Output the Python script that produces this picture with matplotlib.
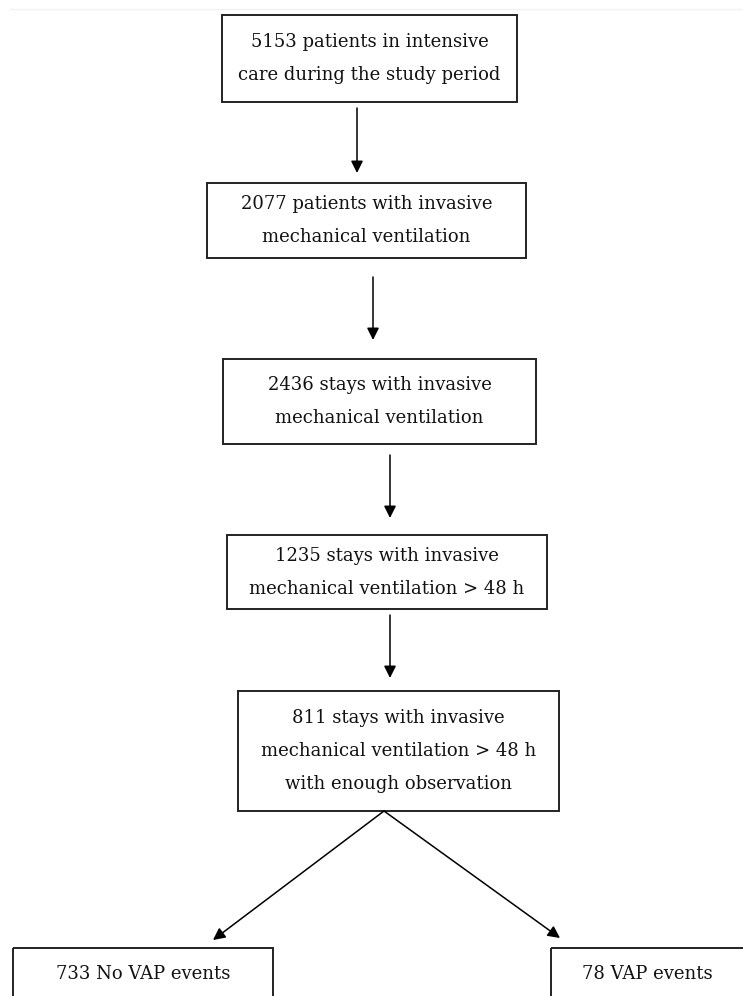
import matplotlib
matplotlib.use("Agg")
import matplotlib.pyplot as plt
from matplotlib.patches import Rectangle

# flowchart content
labels = [
    ["5153 patients in intensive", "care during the study period"],
    ["2077 patients with invasive", "mechanical ventilation"],
    ["2436 stays with invasive", "mechanical ventilation"],
    ["1235 stays with invasive", "mechanical ventilation > 48 h"],
    ["811 stays with invasive", "mechanical ventilation > 48 h", "with enough observation"],
]
outcome_labels = ["733 No VAP events", "78 VAP events"]

# layout in pixels (x0, x1, y0, y1), y grows downward
boxes = [(222, 517, 15, 102), (207, 526, 183, 258), (223, 536, 359, 444),
         (227, 547, 535, 609), (238, 559, 691, 811)]
arrows = [(357, 108, 173), (373, 277, 340), (390, 455, 518), (390, 615, 678)]
outcome_boxes = [(13, 273, 948, 1010), (551, 760, 948, 1010)]
split_from = (384, 811)
split_to = [(213, 940), (560, 938)]

W, H = 743, 996
fig = plt.figure(figsize=(W / 100, H / 100), dpi=100)
ax = fig.add_axes([0, 0, 1, 1])
ax.set_xlim(0, W)
ax.set_ylim(H, 0)
ax.axis("off")

edge = "#222222"
font = dict(family="DejaVu Serif", size=13, color="#111111")
step = 33

# faint rule along the top
ax.plot([10, W], [9, 9], color="#f2f2f2", lw=1)

for (x0, x1, y0, y1), lines in zip(boxes, labels):
    ax.add_patch(Rectangle((x0, y0), x1 - x0, y1 - y0, fill=False, ec=edge, lw=1.4))
    cy = (y0 + y1) / 2
    n = len(lines)
    for k, s in enumerate(lines):
        ax.text((x0 + x1) / 2, cy + (k - (n - 1) / 2) * step, s,
                ha="center", va="center", **font)

for x, ya, yb in arrows:
    ax.annotate("", xy=(x, yb), xytext=(x, ya),
                arrowprops=dict(arrowstyle="-|>", color="black", lw=1.1,
                                mutation_scale=18, shrinkA=0, shrinkB=0))

for tx, ty in split_to:
    ax.annotate("", xy=(tx, ty), xytext=split_from,
                arrowprops=dict(arrowstyle="-|>", color="black", lw=1.1,
                                mutation_scale=18, shrinkA=0, shrinkB=0))

for (x0, x1, y0, y1), s in zip(outcome_boxes, outcome_labels):
    ax.add_patch(Rectangle((x0, y0), x1 - x0, y1 - y0, fill=False, ec=edge, lw=1.4))
    cx = (x0 + min(x1, W)) / 2 if x1 > W else (x0 + x1) / 2
    ax.text(cx, 974, s, ha="center", va="center", **font)

fig.savefig("out.png", dpi=100, facecolor="white")
